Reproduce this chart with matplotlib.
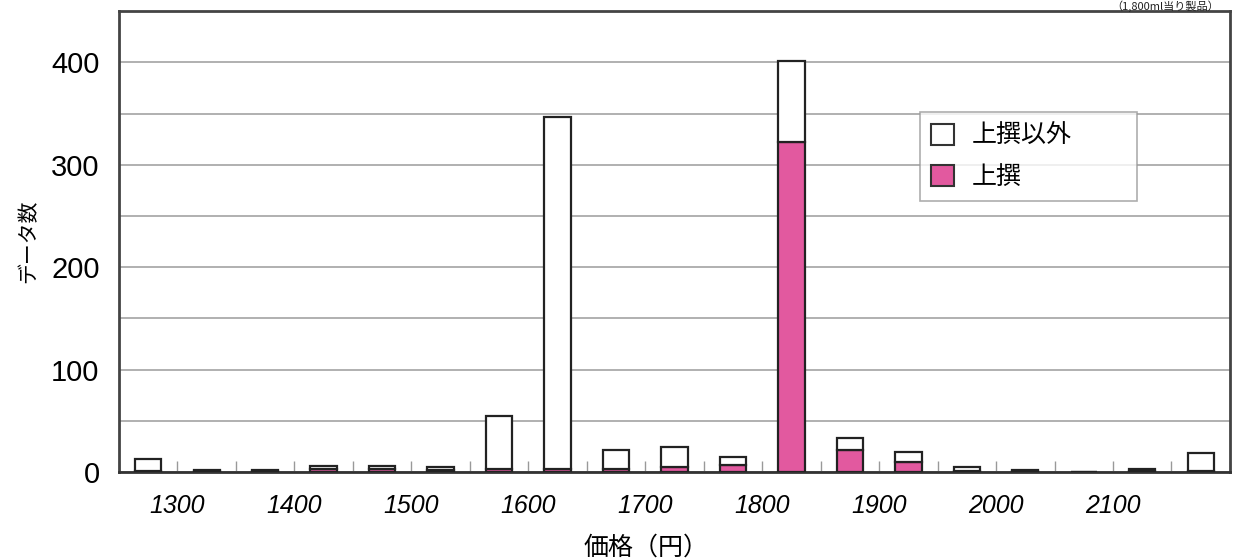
import matplotlib
matplotlib.use("Agg")
import matplotlib.pyplot as plt
from matplotlib.ticker import MultipleLocator, FixedLocator
from matplotlib.patches import Patch

plt.rcParams['font.family'] = ['Liberation Sans', 'Noto Sans CJK JP', 'DejaVu Sans']

# price bins (centre of each 50-yen class)
price_bins = [1275, 1325, 1375, 1425, 1475, 1525, 1575, 1625, 1675, 1725,
              1775, 1825, 1875, 1925, 1975, 2025, 2075, 2125, 2175]
# 上撰 counts
josen = [1, 1, 1, 3, 3, 2, 3, 3, 3, 5, 7, 322, 22, 10, 1, 1, 0, 1, 1]
# 上撰以外 counts
josen_igai = [12, 1, 1, 3, 3, 3, 52, 344, 19, 19, 8, 79, 11, 10, 4, 1, 0, 2, 18]
tick_prices = [1300, 1400, 1500, 1600, 1700, 1800, 1900, 2000, 2100]

pink = '#E2599F'
jp = 'Noto Sans CJK JP'

fig = plt.figure(figsize=(12.38, 5.6), dpi=100)
ax = fig.add_axes([0.0961, 0.157, 0.8974, 0.823])

width = 50 * 0.45
ax.bar(price_bins, josen, width=width, color=pink, edgecolor='#222222',
       linewidth=1.6, zorder=3, label='上撰')
ax.bar(price_bins, josen_igai, width=width, bottom=josen, color='white',
       edgecolor='#222222', linewidth=1.6, zorder=3, label='上撰以外')

ax.set_xlim(1250, 2200)
ax.set_ylim(0, 450)

# horizontal grid every 50, labels every 100
ax.yaxis.set_major_locator(MultipleLocator(100))
ax.yaxis.set_minor_locator(MultipleLocator(50))
ax.grid(True, axis='y', which='both', color='#aaaaaa', linewidth=1.3, zorder=1)
ax.tick_params(axis='y', which='both', direction='in', length=0, pad=14,
               labelsize=21)

ax.xaxis.set_major_locator(FixedLocator(tick_prices))
ax.xaxis.set_minor_locator(MultipleLocator(50))
ax.set_xticklabels([str(p) for p in tick_prices], fontstyle='italic')
ax.tick_params(axis='x', which='both', direction='in', length=8, width=1,
               color='#999999', pad=16, labelsize=18)

for s in ax.spines.values():
    s.set_color('#444444')
    s.set_linewidth(2)
ax.spines['bottom'].set_color('#333333')

ax.set_ylabel('データ数', family=[jp], fontsize=15, labelpad=8)
ax.set_xlabel('価格（円）', family=[jp], fontsize=18, labelpad=12, x=0.474)

handles = [Patch(facecolor='white', edgecolor='#333333', linewidth=1.5),
           Patch(facecolor=pink, edgecolor='#333333', linewidth=1.5)]
leg = ax.legend(handles, ['上撰以外', '上撰'], loc='upper left', mode='expand',
                bbox_to_anchor=(0.721, 0.782, 0.195, 0.0),
                prop={'family': jp, 'size': 18},
                frameon=True, fancybox=False, edgecolor='#999999',
                handlelength=0.9, handleheight=0.9, handletextpad=0.7,
                borderpad=0.45, labelspacing=0.6, borderaxespad=0)
leg.get_frame().set_linewidth(1.2)
leg.set_zorder(5)

fig.text(0.985, 0.999, '（1,800ml当り製品）', ha='right', va='top',
         family=[jp], fontsize=8, color='#222222')

fig.savefig('out.png', dpi=100, facecolor='white')
